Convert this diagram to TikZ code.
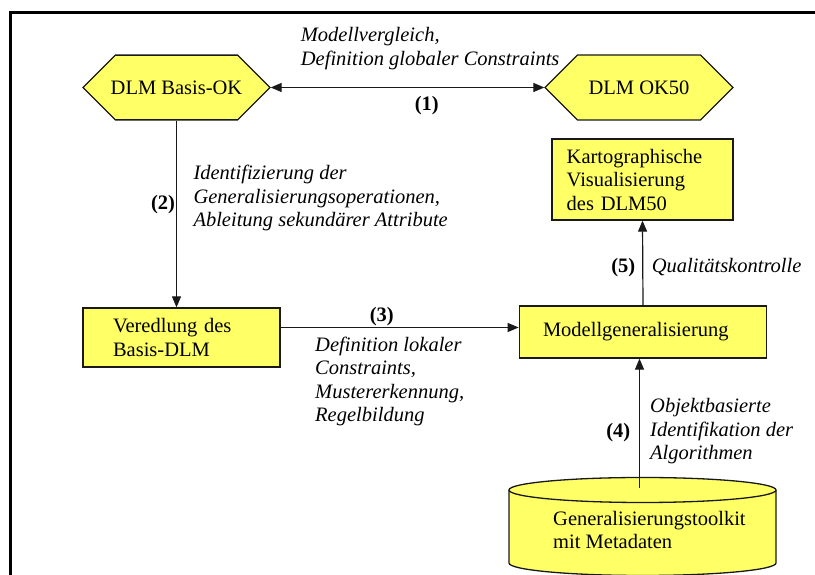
\documentclass[tikz,border=0pt]{standalone}
\usepackage{fontspec}
\setmainfont{Liberation Serif}
\usetikzlibrary{arrows.meta,shapes.misc}
\definecolor{boxyellow}{RGB}{255,255,102}
\definecolor{edgegray}{RGB}{25,25,25}
\begin{document}
\begin{tikzpicture}[x=1pt,y=1pt,
  txt/.style={font=\fontsize{20.5pt}{23.5pt}\selectfont, text=black},
  hexbox/.style={txt, chamfered rectangle, chamfered rectangle xsep=45pt,
    chamfered rectangle ysep=25.5pt, draw=edgegray, fill=boxyellow,
    line width=1.3pt, minimum width=187pt, minimum height=51pt, inner sep=0pt},
  stepbox/.style={txt, rectangle, draw=edgegray, fill=boxyellow, line width=1.3pt,
    align=left, inner ysep=0pt},
  note/.style={txt, font=\fontsize{20.5pt}{23.5pt}\selectfont\itshape,
    align=left, inner sep=0pt, anchor=north west},
  num/.style={txt, font=\fontsize{20.5pt}{23.5pt}\selectfont\bfseries,
    inner sep=0pt, anchor=base},
  flow/.style={line width=1.2pt, draw=edgegray, -{Triangle[length=11pt,width=9pt]}},
  flowboth/.style={flow, {Triangle[length=11pt,width=9pt]}-{Triangle[length=11pt,width=9pt]}}
]
\useasboundingbox (0,0) rectangle (815,575);
\fill[white] (0,0) rectangle (815,575);

% outer frame (top and left sides)
\draw[line width=3pt] (815,562.5) -- (10,562.5) -- (10,0);

% data models
\node[hexbox] (basis) at (176.5,487.5) {DLM Basis-OK};
\node[hexbox, minimum width=188pt, chamfered rectangle xsep=46pt] (ok50) at (639,487.5) {DLM OK50};

% processing steps
\node[stepbox, minimum width=197pt, minimum height=59pt, text width=137pt, inner xsep=30pt]
  (veredlung) at (181.5,237.5) {Veredlung des\\Basis-DLM};
\node[stepbox, minimum width=181pt, minimum height=81pt, text width=151.6pt, inner xsep=14.7pt]
  (karto) at (642.5,395.5) {Kartographische\\Visualisierung\\des DLM50};
\node[stepbox, minimum width=247.4pt, minimum height=52pt, text width=200pt, inner xsep=23.7pt]
  (modell) at (643,243) {Modellgeneralisierung};

% toolkit database cylinder
\fill[boxyellow] (509,85) -- (509,12)
  arc[start angle=180, end angle=360, x radius=133.5pt, y radius=12.5pt]
  -- (776,85) arc[start angle=0, end angle=180, x radius=133.5pt, y radius=12.5pt] -- cycle;
\draw[edgegray, line width=1.3pt] (509,85) -- (509,12)
  arc[start angle=180, end angle=360, x radius=133.5pt, y radius=12.5pt] -- (776,85);
\draw[edgegray, line width=1.3pt, fill=boxyellow] (642.5,85) ellipse[x radius=133.5pt, y radius=12.5pt];
\node[txt, align=left, inner sep=0pt, anchor=west] (toolkit) at (553,45)
  {Generalisierungstoolkit\\mit Metadaten};
\coordinate (toolkittop) at (639.5,87);

% connectors
\draw[flowboth] (basis.east) -- (ok50.west);
\draw[flow] (basis.south) -- (basis.south |- veredlung.north);
\draw[flow] ([yshift=10pt]veredlung.east) -- ([yshift=10pt]veredlung.east -| modell.west);
\draw[flow] (toolkittop) -- (toolkittop |- modell.south);
\draw[flow] (modell.north) -- (karto.south);

% connector labels
\node[note] (l1) at (300.7,547.5) {Modellvergleich,\\Definition globaler Constraints};
\node[num] (n1) at (426.7,464) {(1)};
\node[num] (n2) at (163,365) {(2)};
\node[note] (l2) at (193.3,410) {Identifizierung der\\Generalisierungsoperationen,\\Ableitung sekundärer Attribute};
\node[num] (n3) at (381.7,253.5) {(3)};
\node[note] (l3) at (315,238.3) {Definition lokaler\\Constraints,\\Mustererkennung,\\Regelbildung};
\node[num] (n5) at (623.3,302.5) {(5)};
\node[note] (l5) at (651.7,317) {Qualitätskontrolle};
\node[num] (n4) at (618.3,137) {(4)};
\node[note] (l4) at (650,176.7) {Objektbasierte\\Identifikation der\\Algorithmen};
\end{tikzpicture}
\end{document}
